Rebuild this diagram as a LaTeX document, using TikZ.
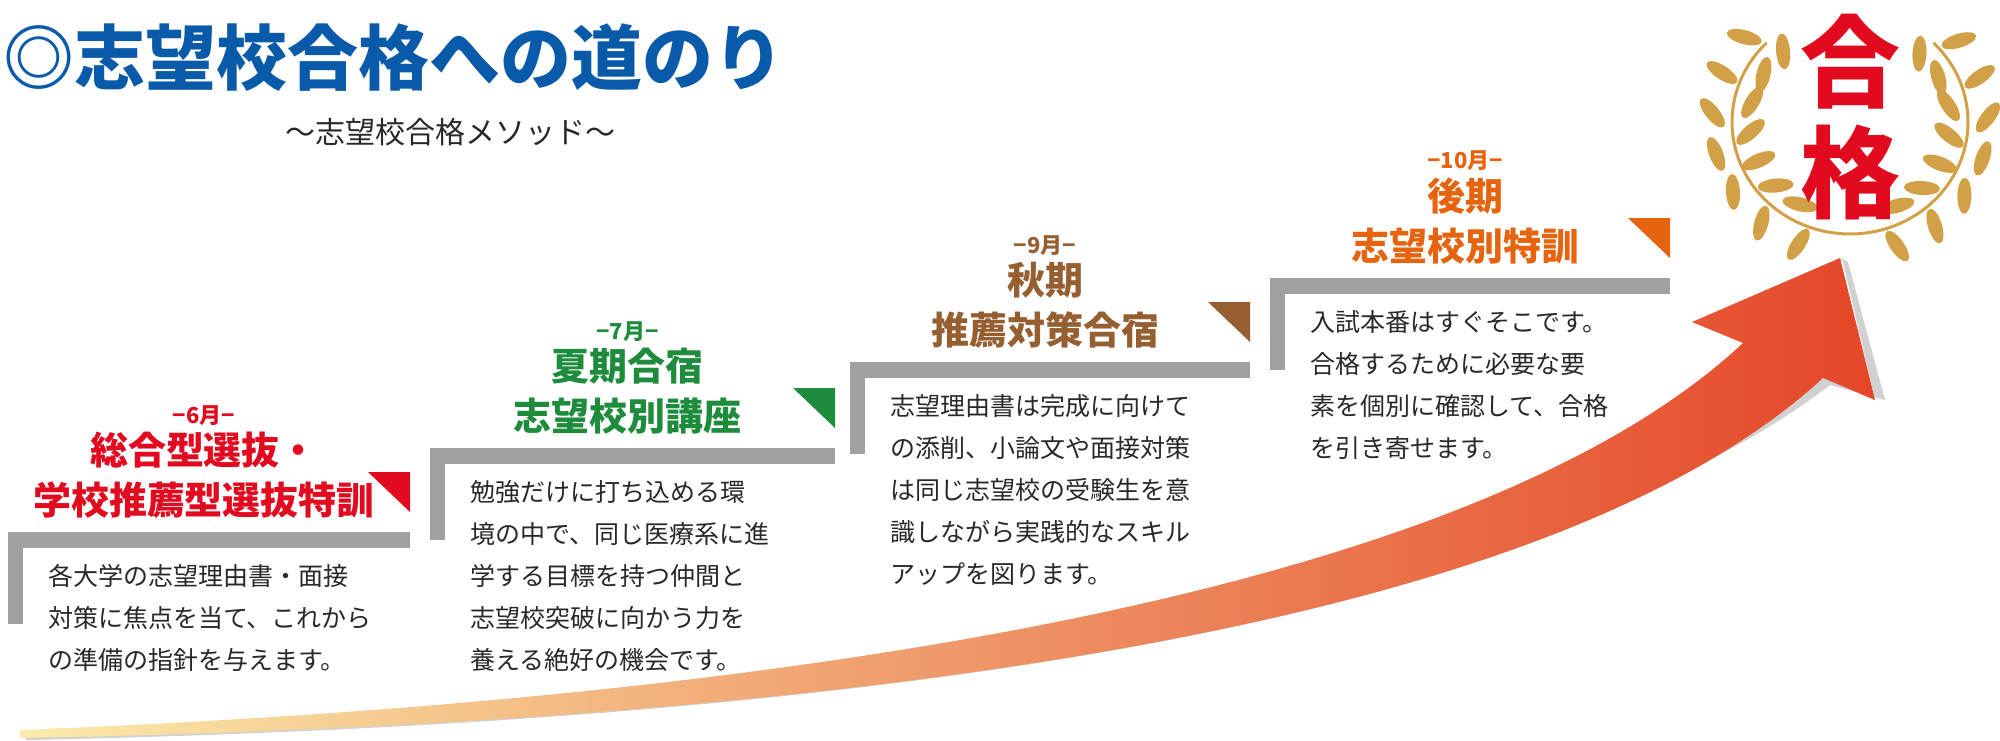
\documentclass[tikz,border=0pt]{standalone}
\usepackage{fontspec}
\usetikzlibrary{shapes.geometric}
\setmainfont{Noto Sans CJK JP}
\definecolor{titleblue}{RGB}{10,90,170}
\definecolor{redstep}{RGB}{225,10,30}
\definecolor{greenstep}{RGB}{30,140,60}
\definecolor{brownstep}{RGB}{150,95,50}
\definecolor{orangestep}{RGB}{230,100,15}
\definecolor{bartone}{RGB}{160,160,160}
\definecolor{bodytext}{RGB}{40,40,40}
\definecolor{gold}{RGB}{210,160,70}
\definecolor{arrowred}{RGB}{228,70,40}
\definecolor{arroworange}{RGB}{240,150,70}
\definecolor{arrowpale}{RGB}{250,235,170}
\begin{document}
\begin{tikzpicture} [
        x=1pt, y=-1pt,
        month/.style={font=\fontsize{22}{24}\selectfont\bfseries, anchor=center},
        heading/.style={font=\fontsize{38}{50}\selectfont\bfseries, align=center, anchor=center},
        body/.style={font=\fontsize{25}{42}\selectfont, text=bodytext, align=left, anchor=north west, inner sep=0pt},
        bar/.style={fill=bartone},
        leaf/.style={fill=gold, ellipse, minimum width=36pt, minimum height=14pt, inner sep=0pt},
    ]
    \useasboundingbox (0,0) rectangle (2000,740);
    % title
    \node[anchor=west, text=titleblue, font=\fontsize{71}{74}\selectfont\bfseries] (title) at (0,58) {◎志望校合格への道のり};
    \node[anchor=center, font=\fontsize{30}{32}\selectfont, text=bodytext] (subtitle) at (450,132) {〜志望校合格メソッド〜};
    % arrow
    \fill[black!18] (26,735) .. controls (900,715) and (1550,600) .. (1830,385) -- (1885,400) -- (1848,262) -- (1840,258) -- (1843,262) -- (1875,400) -- (1823,378) .. controls (1560,620) and (900,722) .. (26,740) -- cycle;
    \shade[left color=arrowpale, middle color=arroworange, right color=arrowred] (20,730) .. controls (900,695) and (1500,570) .. (1743,343) -- (1692,322) -- (1840,258) -- (1875,400) -- (1823,378) .. controls (1560,620) and (900,722) .. (20,738) -- cycle;
    % laurel
    \draw[gold, line width=3pt] plot[domain=135:405, samples=60, smooth] ({1850+118*cos(\x)}, {122-112*sin(\x)});
    \foreach \a in {140,158,...,250}
    {
        \node[leaf, rotate={-\a-90+35}] at ({1850+138*cos(\a)}, {122-132*sin(\a)}) {};
        \node[leaf, rotate={-\a-90-35}] at ({1850+100*cos(\a-8)}, {122-95*sin(\a-8)}) {};
    }
    \foreach \a in {290,308,...,400}
    {
        \node[leaf, rotate={-\a+90-35}] at ({1850+138*cos(\a)}, {122-132*sin(\a)}) {};
        \node[leaf, rotate={-\a+90+35}] at ({1850+100*cos(\a+8)}, {122-95*sin(\a+8)}) {};
    }
    \node[text=redstep, font=\fontsize{100}{100}\selectfont\bfseries] (pass1) at (1850,62) {合};
    \node[text=redstep, font=\fontsize{100}{100}\selectfont\bfseries] (pass2) at (1850,172) {格};
    % steps
    \foreach \x/\y/\w/\c/\m/\h/\t in {
        8/532/402/redstep/−6月−/{総合型選抜・\\学校推薦型選抜特訓}/{各大学の志望理由書・面接\\対策に焦点を当て、これから\\の準備の指針を与えます。},
        430/448/405/greenstep/−7月−/{夏期合宿\\志望校別講座}/{勉強だけに打ち込める環\\境の中で、同じ医療系に進\\学する目標を持つ仲間と\\志望校突破に向かう力を\\養える絶好の機会です。},
        850/362/400/brownstep/−9月−/{秋期\\推薦対策合宿}/{志望理由書は完成に向けて\\の添削、小論文や面接対策\\は同じ志望校の受験生を意\\識しながら実践的なスキル\\アップを図ります。},
        1270/278/400/orangestep/−10月−/{後期\\志望校別特訓}/{入試本番はすぐそこです。\\合格するために必要な要\\素を個別に確認して、合格\\を引き寄せます。}}
    {
        \fill[bar] (\x,\y) rectangle ++(\w,16);
        \fill[bar] (\x,\y) rectangle ++(15,92);
        \fill[\c] (\x+\w-42,\y-60) -- (\x+\w,\y-60) -- (\x+\w,\y-20) -- cycle;
        \node[heading, text=\c, anchor=south] (head) at (\x+\w/2-5,\y-10) {\h};
        \node[month, text=\c, anchor=south] (month) at (head.north) {\m};
        \node[body] (text) at (\x+40,\y+32) {\t};
    }
\end{tikzpicture}
\end{document}
